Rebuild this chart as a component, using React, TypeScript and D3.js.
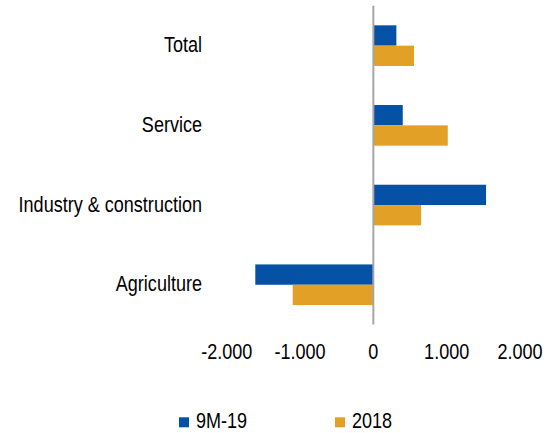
import React from "react";
import * as d3 from "d3";

const categories = ["Total", "Service", "Industry & construction", "Agriculture"];
const seriesNames = ["9M-19", "2018"];
const values9M19 = [314, 401, 1537, -1610];
const values2018 = [555, 1015, 651, -1100];
const xTicks = [-2000, -1000, 0, 1000, 2000];
const xTickLabels = ["-2.000", "-1.000", "0", "1.000", "2.000"];
const colors = ["#0451A5", "#E3A027"];

const W = 551;
const H = 433;
const FONT = "'Liberation Sans', Arial, sans-serif";
const NARROW = 0.82;

function NText(props: {
  x: number;
  y: number;
  anchor?: "start" | "middle" | "end";
  children: React.ReactNode;
}) {
  return (
    <text
      transform={`translate(${props.x},${props.y}) scale(${NARROW},1)`}
      textAnchor={props.anchor || "start"}
      fontSize={22}
      fill="#000"
    >
      {props.children}
    </text>
  );
}

export default function App() {
  const x = d3.scaleLinear().domain([-2000, 2000]).range([226.7, 520]);
  const y = d3
    .scaleBand<string>()
    .domain(categories)
    .range([5.8, 324.6])
    .paddingInner(0.49)
    .paddingOuter(0.245);
  const sub = d3.scaleBand<string>().domain(seriesNames).range([0, y.bandwidth()]);
  const series = [values9M19, values2018];

  return (
    <svg
      width={W}
      height={H}
      style={{ position: "absolute", left: 0, top: 0, background: "#fff" }}
      fontFamily={FONT}
    >
      <rect x={0} y={0} width={W} height={H} fill="#fff" />
      {series.map((vals, si) =>
        vals.map((v, ci) => {
          const x0 = x(Math.min(0, v));
          const x1 = x(Math.max(0, v));
          return (
            <rect
              key={`${si}-${ci}`}
              x={x0}
              y={(y(categories[ci]) as number) + (sub(seriesNames[si]) as number)}
              width={x1 - x0}
              height={sub.bandwidth()}
              fill={colors[si]}
            />
          );
        })
      )}
      <line x1={x(0)} x2={x(0)} y1={5.8} y2={324.6} stroke="#A6A6A6" strokeWidth={2} />
      {categories.map((c) => (
        <NText key={c} x={202} y={(y(c) as number) + y.bandwidth() / 2 + 6.5} anchor="end">
          {c}
        </NText>
      ))}
      {xTicks.map((t, i) => (
        <NText key={t} x={x(t)} y={359.3} anchor="middle">
          {xTickLabels[i]}
        </NText>
      ))}
      {seriesNames.map((s, i) => {
        const lx = [179, 335][i];
        return (
          <g key={s}>
            <rect x={lx} y={417.3} width={10} height={10} fill={colors[i]} />
            <NText x={lx + 17} y={428.3}>
              {s}
            </NText>
          </g>
        );
      })}
    </svg>
  );
}
